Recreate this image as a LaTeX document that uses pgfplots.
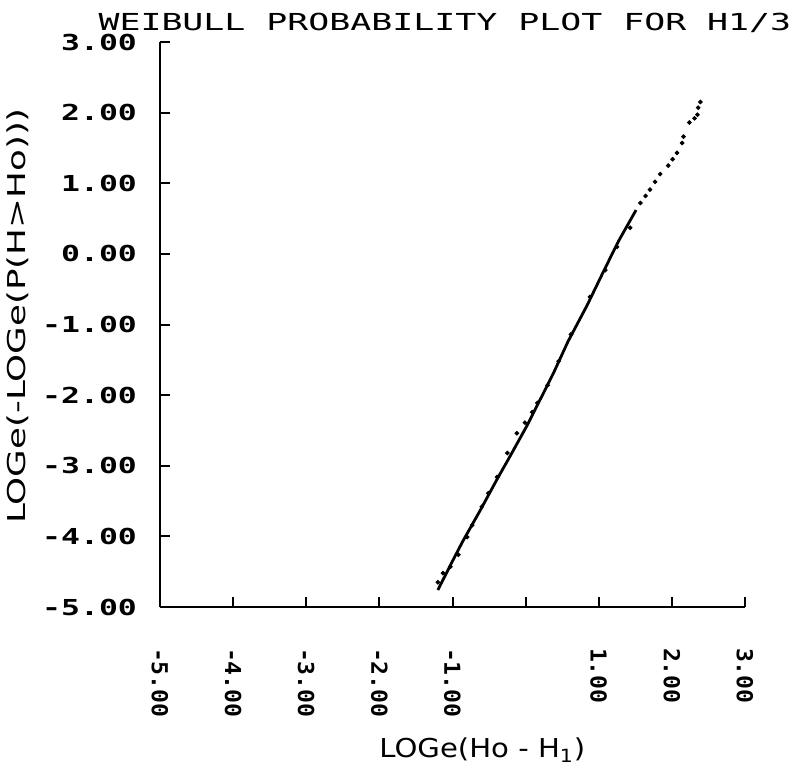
\documentclass[border=0pt]{standalone}
\usepackage{fontspec}
\usepackage{pgfplots}
\pgfplotsset{compat=1.18}
% plotter-style lettering
\newfontfamily\titlefont[FakeStretch=1.49]{DejaVu Sans Mono}
\newfontfamily\yticksfont[FakeStretch=1.43]{DejaVu Sans Mono}
\newfontfamily\xticksfont[FakeStretch=1.05]{DejaVu Sans Mono}
\newfontfamily\xlabfont[FakeStretch=1.12]{DejaVu Sans}
\newfontfamily\ylabfont[FakeStretch=1.45]{DejaVu Sans}

\begin{document}
\begin{tikzpicture}
\useasboundingbox (0,0) rectangle (397.5pt,385pt);
\begin{axis}[
  at={(80pt,81.5pt)}, anchor=south west,
  scale only axis, width=292.5pt, height=282.5pt,
  xmin=-5, xmax=3, ymin=-5, ymax=3,
  axis lines*=left,
  axis line style={line width=1.4pt, black},
  clip=false,
  tick align=inside,
  major tick length=5pt,
  tick style={line width=1pt, black},
  xtick={-5,-4,-3,-2,-1,0,1,2,3},
  xticklabels={-5.00,-4.00,-3.00,-2.00,-1.00,,1.00,2.00,3.00},
  ytick={-5,-4,-3,-2,-1,0,1,2,3},
  yticklabels={-5.00,-4.00,-3.00,-2.00,-1.00,0.00,1.00,2.00,3.00},
  xticklabel style={font=\xticksfont\bfseries\fontsize{11}{13}\selectfont,
    rotate=-90, anchor=west},
  xticklabel shift=17pt,
  yticklabel style={font=\yticksfont\bfseries\fontsize{11}{13}\selectfont,
    anchor=east},
  yticklabel shift=8pt,
  title={WEIBULL PROBABILITY PLOT FOR H1/3},
  title style={at={(axis description cs:0.487,1.012)}, anchor=center,
    font=\titlefont\fontsize{11.7}{13}\selectfont},
  xlabel={LOGe(Ho - H\textsubscript{1})},
  xlabel style={at={(axis description cs:0.551,-0.253)}, anchor=center,
    font=\xlabfont\fontsize{13}{15}\selectfont},
  ylabel={LOGe(-LOGe(P(H>Ho)))},
  ylabel style={at={(axis description cs:-0.243,0.515)}, anchor=center,
    rotate=0, font=\ylabfont\fontsize{12.3}{14}\selectfont},
]
% fitted line through the lower and middle range
\addplot[black, line width=1.4pt] coordinates {
  (-1.20,-4.76) (-1.03,-4.41) (-0.86,-4.07) (-0.62,-3.63)
  (-0.39,-3.19) (-0.21,-2.86) (0.02,-2.43) (0.20,-2.06)
  (0.38,-1.69) (0.58,-1.24) (0.84,-0.73) (1.06,-0.26)
  (1.27,0.18) (1.51,0.62)
};
% ranked observations
\addplot[only marks, mark=*, mark size=0.95pt, black] coordinates {
  (-1.20,-4.65) (-1.13,-4.52) (-1.03,-4.43) (-0.92,-4.26)
  (-0.80,-4.01) (-0.73,-3.84) (-0.60,-3.58) (-0.51,-3.39)
  (-0.39,-3.16) (-0.25,-2.82) (-0.12,-2.54) (-0.01,-2.39)
  (0.09,-2.24) (0.16,-2.11)
  (0.30,-1.86) (0.45,-1.52) (0.62,-1.14) (0.88,-0.61)
  (1.09,-0.23) (1.25,0.10) (1.43,0.37)
  (1.57,0.72) (1.64,0.82) (1.70,0.91) (1.77,1.02)
  (1.84,1.13) (1.95,1.25) (2.01,1.34) (2.07,1.43)
  (2.14,1.57) (2.16,1.66) (2.24,1.86) (2.31,1.92)
  (2.35,1.97) (2.36,2.07) (2.39,2.15)
};
\end{axis}
\end{tikzpicture}
\end{document}
